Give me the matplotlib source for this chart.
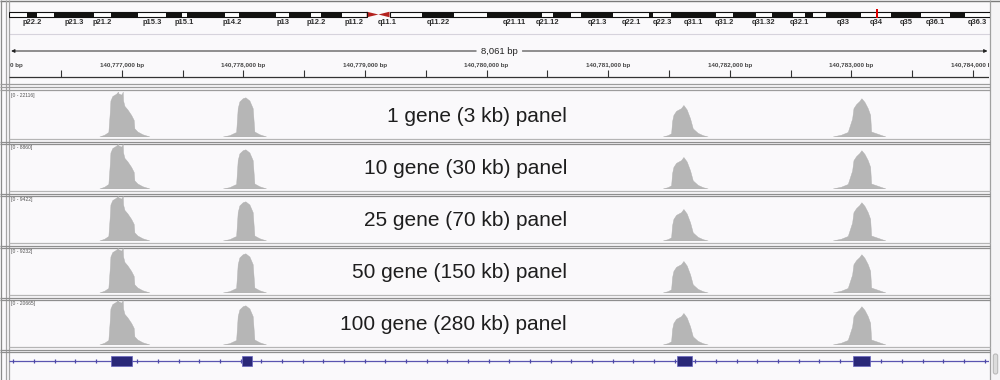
import numpy as np
import matplotlib.pyplot as plt
from matplotlib.patches import Rectangle, Polygon, FancyBboxPatch

plt.rcParams['font.family'] = ['Liberation Sans', 'DejaVu Sans']

W, H = 1000, 380

# chr7 cytobands (Mb)
band_names = ['p22.3', 'p22.2', 'p22.1', 'p21.3', 'p21.2', 'p21.1', 'p15.3', 'p15.2', 'p15.1',
              'p14.3', 'p14.2', 'p14.1', 'p13', 'p12.3', 'p12.2', 'p12.1', 'p11.2', 'p11.1',
              'q11.1', 'q11.21', 'q11.22', 'q11.23', 'q21.11', 'q21.12', 'q21.13', 'q21.2',
              'q21.3', 'q22.1', 'q22.2', 'q22.3', 'q31.1', 'q31.2', 'q31.31', 'q31.32', 'q31.33',
              'q32.1', 'q32.2', 'q32.3', 'q33', 'q34', 'q35', 'q36.1', 'q36.2', 'q36.3']
band_start = [0.0, 2.8, 4.5, 7.3, 13.8, 16.5, 20.9, 25.5, 28.0, 28.8, 35.0, 37.2, 43.3, 45.4,
              49.0, 50.5, 54.0, 58.0, 59.9, 61.7, 67.0, 72.2, 77.5, 86.4, 88.2, 91.1, 92.8,
              98.0, 103.8, 104.5, 107.4, 114.6, 117.4, 121.1, 123.8, 127.1, 129.2, 130.4,
              132.6, 138.2, 143.1, 147.9, 152.6, 155.1]
band_end = band_start[1:] + [159.14]
band_stain = ['gneg', 'gpos', 'gneg', 'gpos', 'gneg', 'gpos', 'gneg', 'gpos', 'gneg',
              'gpos', 'gneg', 'gpos', 'gneg', 'gpos', 'gneg', 'gpos', 'gneg', 'acen',
              'acen', 'gneg', 'gpos', 'gneg', 'gpos', 'gneg', 'gpos', 'gneg',
              'gpos', 'gneg', 'gpos', 'gneg', 'gpos', 'gneg', 'gpos', 'gneg', 'gpos',
              'gneg', 'gpos', 'gneg', 'gpos', 'gneg', 'gpos', 'gneg', 'gpos', 'gneg']
labeled = ['p22.2', 'p21.3', 'p21.2', 'p15.3', 'p15.1', 'p14.2', 'p13', 'p12.2', 'p11.2',
           'q11.1', 'q11.22', 'q21.11', 'q21.12', 'q21.3', 'q22.1', 'q22.3', 'q31.1',
           'q31.2', 'q31.32', 'q32.1', 'q33', 'q34', 'q35', 'q36.1', 'q36.3']
view_mb = 140.78

# locus
view_start = 140776074
view_end = 140784135
ruler_label = '8,061 bp'
left_label = '0 bp'
major_ticks = [140777000, 140778000, 140779000, 140780000,
               140781000, 140782000, 140783000, 140784000]
minor_ticks = [140776500, 140777500, 140778500, 140779500,
               140780500, 140781500, 140782500, 140783500]

# tracks
track_names = ['1 gene (3 kb) panel', '10 gene (30 kb) panel', '25 gene (70 kb) panel',
               '50 gene (150 kb) panel', '100 gene (280 kb) panel']
track_max = [22116, 8860, 9422, 9232, 20665]

# coverage profiles (fraction of track max)
peak1_pos = [140776819, 140776860, 140776893, 140776905, 140776910, 140776926, 140776957,
             140776967, 140776971, 140776975, 140776998, 140777008, 140777011, 140777014,
             140777025, 140777050, 140777080, 140777101, 140777107, 140777132, 140777173,
             140777231]
peak1_cov = [0.00, 0.04, 0.10, 0.55, 0.80, 0.90, 0.95, 0.98, 1.00, 0.96, 0.93, 0.97, 1.00,
             0.80, 0.68, 0.60, 0.48, 0.37, 0.18, 0.11, 0.05, 0.00]
peak2_pos = [140777834, 140777889, 140777944, 140777957, 140777971, 140777998, 140778020,
             140778053, 140778080, 140778094, 140778135, 140778191]
peak2_cov = [0.00, 0.03, 0.10, 0.63, 0.78, 0.85, 0.87, 0.80, 0.63, 0.11, 0.05, 0.00]
peak3_pos = [140781453, 140781494, 140781522, 140781530, 140781541, 140781563, 140781604,
             140781623, 140781650, 140781678, 140781700, 140781741, 140781782, 140781823]
peak3_cov = [0.00, 0.03, 0.07, 0.34, 0.48, 0.57, 0.63, 0.70, 0.60, 0.40, 0.18, 0.08, 0.03, 0.00]
peak4_pos = [140782851, 140782920, 140782975, 140783011, 140783022, 140783044, 140783071,
             140783087, 140783112, 140783139, 140783159, 140783167, 140783221, 140783285]
peak4_cov = [0.00, 0.04, 0.10, 0.40, 0.63, 0.72, 0.79, 0.85, 0.77, 0.63, 0.48, 0.11, 0.06, 0.00]

# gene exons
exon_start = [140776907, 140777987, 140781566, 140783013]
exon_end = [140777085, 140778072, 140781689, 140783153]

fig = plt.figure(figsize=(W / 100, H / 100), dpi=100)
fig.patch.set_facecolor('#faf9fb')


def px_axes(x0, y0, x1, y1):
    ax = fig.add_axes([x0 / W, 1 - y1 / H, (x1 - x0) / W, (y1 - y0) / H])
    ax.set_axis_off()
    return ax


# frame lines
bg = px_axes(0, 0, W, H)
bg.set_xlim(0, W)
bg.set_ylim(H, 0)
bg.add_patch(Rectangle((990, 0), 10, H, facecolor='#f5f4f6', edgecolor='none'))
bg.hlines(0.8, 0, W, color='#7a7a7a', lw=1)
bg.hlines(34, 9, 990, color='#d6d3dc', lw=0.8)
for x, c in [(1.2, '#8a8a8a'), (6, '#a5a5a5'), (8.5, '#a5a5a5')]:
    bg.vlines(x, 0, H, color=c, lw=0.9)
bg.vlines(989.5, 0, H, color='#a0a0a0', lw=0.9)
for y in [83.5, 86.5, 89.8]:
    bg.hlines(y, 0, 990, color='#9c9c9c', lw=0.9)
for i in range(len(track_names)):
    b = 137 + 52 * i
    bg.hlines(b + 1.5, 8.5, 990, color='#b5b5b5', lw=0.9)
    bg.hlines(b + 4.5, 0, 990, color='#8e8e8e', lw=0.9)
    bg.hlines(b + 6.5, 0, 990, color='#8e8e8e', lw=0.9)
bg.add_patch(FancyBboxPatch((993.3, 354), 4.4, 20, boxstyle='round,pad=0,rounding_size=2',
                            facecolor='#dcdcdc', edgecolor='#b5b5b5', lw=0.7))

# ideogram
ideo = px_axes(9.3, 0, 990, 30)
ideo.set_xlim(0, 159.14)
ideo.set_ylim(30, 0)
y0, hh = 11.7, 5.6
for name, s, e, st in zip(band_names, band_start, band_end, band_stain):
    if st == 'acen':
        continue
    ideo.add_patch(Rectangle((s, y0), e - s, hh, facecolor='#121210' if st == 'gpos' else 'white',
                             edgecolor='none'))
    if name in labeled:
        ideo.text((s + e) / 2, 22.3, name, ha='center', va='center', fontsize=5.4,
                  fontweight='bold', color='#2e2e2e')
cen_p = band_start[band_names.index('p11.1')]
cen_m = band_start[band_names.index('q11.1')]
cen_q = band_end[band_names.index('q11.1')]
ideo.add_patch(Polygon([(cen_p, y0), (cen_p, y0 + hh), (cen_m, y0 + hh / 2)], facecolor='#b3211e',
                       edgecolor='none'))
ideo.add_patch(Polygon([(cen_q, y0), (cen_q, y0 + hh), (cen_m, y0 + hh / 2)], facecolor='#b3211e',
                       edgecolor='none'))
ideo.text((cen_m + cen_q) / 2 + 0.6, 22.3, 'q11.1', ha='center', va='center', fontsize=5.4,
          fontweight='bold', color='#2e2e2e')
ideo.add_patch(Rectangle((0, y0), cen_p, hh, facecolor='none', edgecolor='#111111', lw=0.8))
ideo.add_patch(Rectangle((cen_q, y0), 159.14 - cen_q, hh, facecolor='none', edgecolor='#111111',
                         lw=0.8))
ideo.add_patch(Rectangle((view_mb - 0.2, 9.3), 0.4, 9.0, facecolor='#e00000', edgecolor='none'))

# ruler
rul = px_axes(9.3, 34, 989.3, 80)
rul.set_xlim(view_start, view_end)
rul.set_ylim(80, 34)
mid = (view_start + view_end) / 2
gap = 190
rul.annotate('', xy=(view_start + 15, 51), xytext=(mid - gap, 51),
             arrowprops=dict(arrowstyle='-|>', color='#222222', lw=0.7, mutation_scale=5,
                             shrinkA=0, shrinkB=0))
rul.annotate('', xy=(view_end - 15, 51), xytext=(mid + gap, 51),
             arrowprops=dict(arrowstyle='-|>', color='#222222', lw=0.7, mutation_scale=5,
                             shrinkA=0, shrinkB=0))
rul.text(mid, 51, ruler_label, ha='center', va='center', fontsize=6.8, color='#222222')
rul.hlines(77, view_start, view_end, color='#333333', lw=0.9)
rul.vlines(major_ticks + minor_ticks, 70, 77, color='#333333', lw=0.8)
rul.text(view_start + 5, 65, left_label, ha='left', va='center', fontsize=4.5,
         fontweight='bold', color='#444444')
for t in major_ticks:
    txt = rul.text(t, 65, f'{t:,} bp', ha='center', va='center', fontsize=4.5,
                   fontweight='bold', color='#444444')
    txt.set_clip_on(True)

# coverage tracks
peaks = [(peak1_pos, peak1_cov), (peak2_pos, peak2_cov),
         (peak3_pos, peak3_cov), (peak4_pos, peak4_cov)]
for i, name in enumerate(track_names):
    top = 92 + 52 * i
    ax = px_axes(9.3, top, 989.3, top + 45)
    ax.set_xlim(view_start, view_end)
    ax.set_ylim(0, 1.0)
    for pos, cov in peaks:
        ax.fill(pos, cov, color='#b6b6b6', lw=0.3, ec='#b0b0b0')
    bg.text(11, top + 4, f'[0 - {track_max[i]}]', ha='left', va='center', fontsize=3.6,
            color='#555555')
    bg.text(567, top + 25, name, ha='right', va='center', fontsize=15, color='#1e1e1e')

# gene track
gene = px_axes(9.3, 352, 989.3, 372)
gene.set_xlim(view_start, view_end)
gene.set_ylim(372, 352)
gene.hlines(361, view_start, view_end, color='#5a55b0', lw=0.9)
arrows = np.arange(view_start + 33, view_end, 170)
gene.plot(arrows, np.full(len(arrows), 361), '|', ms=2.8, mew=0.9, color='#4d48a8')
for s, e in zip(exon_start, exon_end):
    gene.add_patch(Rectangle((s, 356), e - s, 10, facecolor='#2a2878', edgecolor='#6a66c0',
                             lw=0.5, zorder=3))

fig.savefig('out.png', dpi=100, facecolor=fig.get_facecolor())
